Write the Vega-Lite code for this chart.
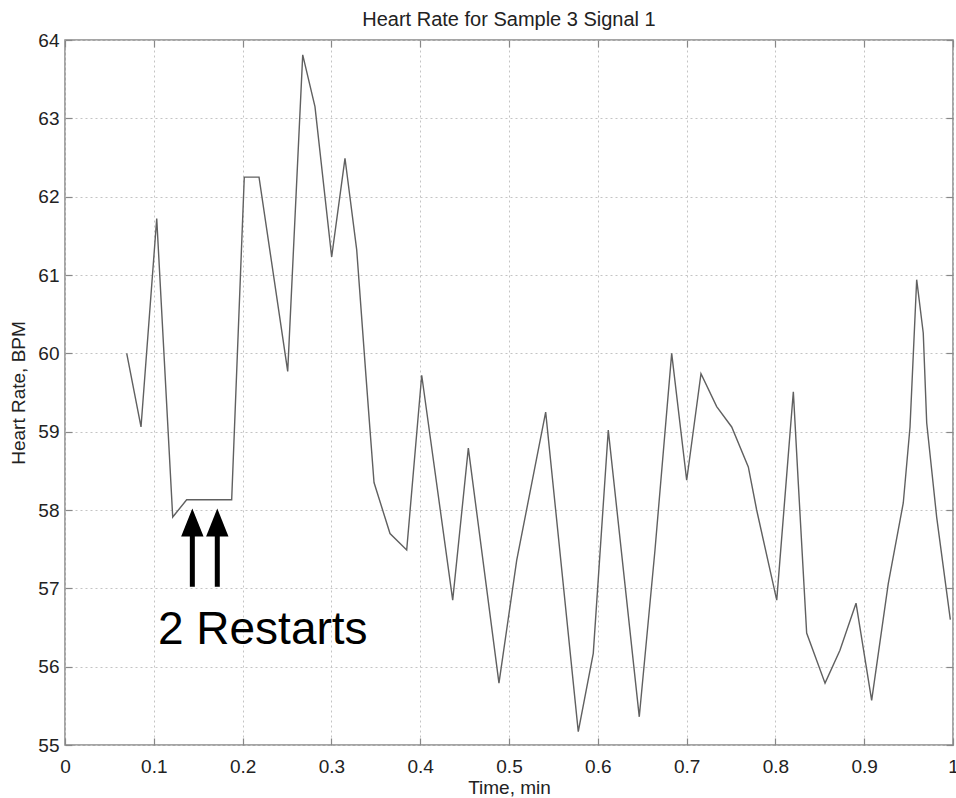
{
  "$schema": "https://vega.github.io/schema/vega-lite/v6.json",
  "width": 888,
  "height": 705,
  "autosize": {"type": "none"},
  "padding": {"left": 65, "top": 40, "right": 3, "bottom": 53},
  "background": "white",
  "title": {"text": "Heart Rate for Sample 3 Signal 1", "font": "Liberation Sans", "fontSize": 20, "fontWeight": "normal", "color": "#222", "baseline": "alphabetic", "offset": -15, "anchor": "middle"},
  "config": {
    "view": {"stroke": "#888", "strokeWidth": 1.5},
    "font": "Liberation Sans"
  },
  "datasets": {
    "hr": [
      {"t": 0.0695, "bpm": 60.00},
      {"t": 0.0856, "bpm": 59.06},
      {"t": 0.1033, "bpm": 61.72},
      {"t": 0.1213, "bpm": 57.91},
      {"t": 0.1370, "bpm": 58.13},
      {"t": 0.1877, "bpm": 58.13},
      {"t": 0.2019, "bpm": 62.25},
      {"t": 0.2185, "bpm": 62.25},
      {"t": 0.2508, "bpm": 59.77},
      {"t": 0.2677, "bpm": 63.81},
      {"t": 0.2815, "bpm": 63.15},
      {"t": 0.3003, "bpm": 61.23},
      {"t": 0.3153, "bpm": 62.49},
      {"t": 0.3285, "bpm": 61.32},
      {"t": 0.3390, "bpm": 59.70},
      {"t": 0.3435, "bpm": 59.02},
      {"t": 0.3480, "bpm": 58.35},
      {"t": 0.3660, "bpm": 57.70},
      {"t": 0.3848, "bpm": 57.49},
      {"t": 0.4017, "bpm": 59.72},
      {"t": 0.4366, "bpm": 56.85},
      {"t": 0.4542, "bpm": 58.79},
      {"t": 0.4887, "bpm": 55.79},
      {"t": 0.5087, "bpm": 57.36},
      {"t": 0.5413, "bpm": 59.25},
      {"t": 0.5780, "bpm": 55.17},
      {"t": 0.5949, "bpm": 56.17},
      {"t": 0.6118, "bpm": 59.02},
      {"t": 0.6467, "bpm": 55.36},
      {"t": 0.6644, "bpm": 57.49},
      {"t": 0.6832, "bpm": 60.00},
      {"t": 0.7001, "bpm": 58.38},
      {"t": 0.7162, "bpm": 59.74},
      {"t": 0.7339, "bpm": 59.32},
      {"t": 0.7508, "bpm": 59.06},
      {"t": 0.7695, "bpm": 58.55},
      {"t": 0.7789, "bpm": 58.00},
      {"t": 0.8015, "bpm": 56.85},
      {"t": 0.8202, "bpm": 59.51},
      {"t": 0.8258, "bpm": 58.34},
      {"t": 0.8352, "bpm": 56.43},
      {"t": 0.8559, "bpm": 55.79},
      {"t": 0.8727, "bpm": 56.21},
      {"t": 0.8908, "bpm": 56.81},
      {"t": 0.9084, "bpm": 55.57},
      {"t": 0.9271, "bpm": 57.06},
      {"t": 0.9440, "bpm": 58.09},
      {"t": 0.9516, "bpm": 59.06},
      {"t": 0.9591, "bpm": 60.94},
      {"t": 0.9665, "bpm": 60.26},
      {"t": 0.9704, "bpm": 59.11},
      {"t": 0.9816, "bpm": 57.91},
      {"t": 0.9970, "bpm": 56.60}
    ],
    "arrows": [
      {"t": 0.1434, "y0": 57.02, "y1": 57.70, "head": 57.84},
      {"t": 0.1715, "y0": 57.02, "y1": 57.70, "head": 57.84}
    ],
    "label": [
      {"t": 0.2227, "bpm": 56.29, "text": "2 Restarts"}
    ]
  },
  "resolve": {"axis": {"x": "independent", "y": "independent"}},
  "layer": [
    {
      "data": {"name": "hr"},
      "mark": {"type": "line", "color": "#606060", "strokeWidth": 1.4},
      "encoding": {
        "x": {"field": "t", "type": "quantitative",
          "scale": {"domain": [0, 1], "nice": false, "zero": false},
          "axis": {"orient": "bottom", "values": [0, 0.1, 0.2, 0.3, 0.4, 0.5, 0.6, 0.7, 0.8, 0.9, 1], "format": "~g",
            "tickSize": -7, "tickColor": "#888", "tickWidth": 1.2, "domain": false,
            "grid": true, "gridColor": "#c4c4c4", "gridDash": [2, 3], "gridWidth": 1,
            "labelFontSize": 19, "labelColor": "#222", "labelPadding": 19, "labelFlush": false,
            "title": "Time, min", "titleFontSize": 19, "titleFontWeight": "normal", "titleColor": "#222", "titlePadding": 2}},
        "y": {"field": "bpm", "type": "quantitative",
          "scale": {"domain": [55, 64], "nice": false, "zero": false},
          "axis": {"orient": "left", "values": [55, 56, 57, 58, 59, 60, 61, 62, 63, 64],
            "tickSize": -7, "tickColor": "#888", "tickWidth": 1.2, "domain": false,
            "grid": true, "gridColor": "#c4c4c4", "gridDash": [2, 3], "gridWidth": 1,
            "labelFontSize": 19, "labelColor": "#222", "labelPadding": 13, "labelFlush": false,
            "title": "Heart Rate, BPM", "titleFontSize": 19, "titleFontWeight": "normal", "titleColor": "#222", "titlePadding": 9}}
      }
    },
    {
      "data": {"name": "arrows"},
      "mark": {"type": "rule", "color": "black", "strokeWidth": 5},
      "encoding": {
        "x": {"field": "t", "type": "quantitative",
          "axis": {"orient": "top", "values": [0, 0.1, 0.2, 0.3, 0.4, 0.5, 0.6, 0.7, 0.8, 0.9, 1],
            "labels": false, "tickSize": -7, "tickColor": "#888", "tickWidth": 1.2, "domain": false, "grid": false, "title": null}},
        "y": {"field": "y0", "type": "quantitative",
          "axis": {"orient": "right", "values": [55, 56, 57, 58, 59, 60, 61, 62, 63, 64],
            "labels": false, "tickSize": -7, "tickColor": "#888", "tickWidth": 1.2, "domain": false, "grid": false, "title": null}},
        "y2": {"field": "y1"}
      }
    },
    {
      "data": {"name": "arrows"},
      "mark": {"type": "point", "shape": "M-0.8,1L0.8,1L0,-1Z", "filled": true, "color": "black", "opacity": 1, "size": 784, "strokeWidth": 0},
      "encoding": {
        "x": {"field": "t", "type": "quantitative", "axis": null},
        "y": {"field": "head", "type": "quantitative", "axis": null}
      }
    },
    {
      "data": {"name": "label"},
      "mark": {"type": "text", "font": "Liberation Sans", "fontSize": 46, "color": "black", "align": "center", "baseline": "alphabetic"},
      "encoding": {
        "x": {"field": "t", "type": "quantitative", "axis": null},
        "y": {"field": "bpm", "type": "quantitative", "axis": null},
        "text": {"field": "text"}
      }
    }
  ]
}
